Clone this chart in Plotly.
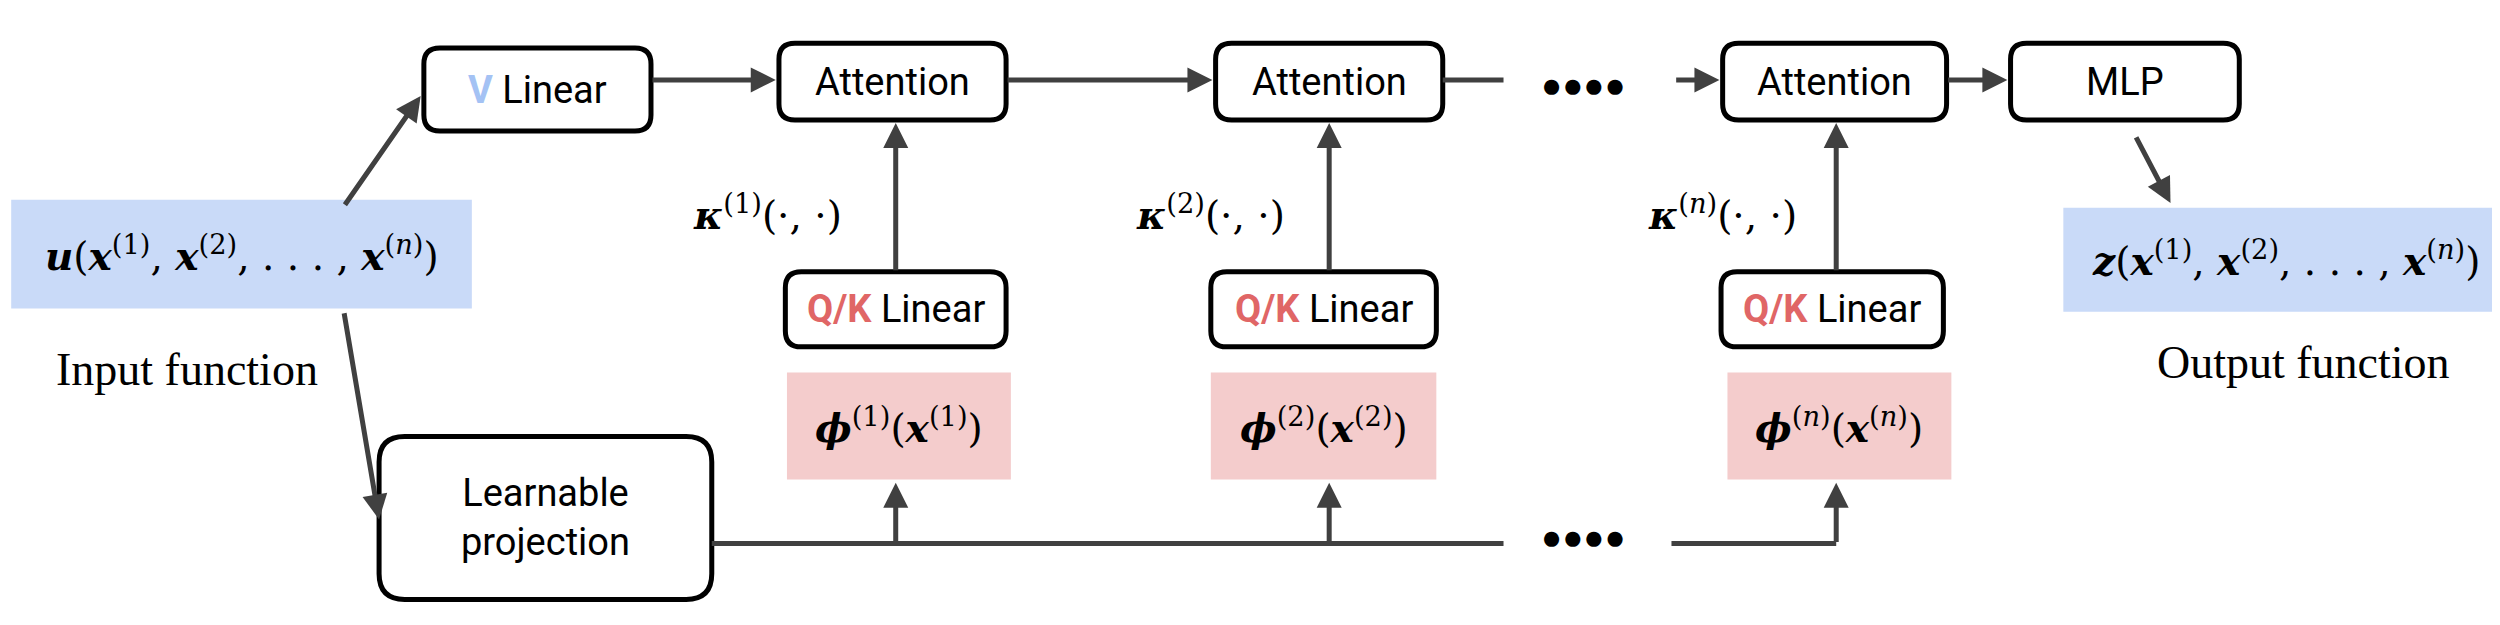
import plotly.graph_objects as go

# ===== diagram content =====
box_labels = ["<span style='color:#a4c2f4'><b>V</b></span> Linear", "Attention", "Attention", "Attention", "MLP",
              "Learnable<br>projection",
              "<span style='color:#e06666'><b>Q/K</b></span> Linear",
              "<span style='color:#e06666'><b>Q/K</b></span> Linear",
              "<span style='color:#e06666'><b>Q/K</b></span> Linear"]
kernel_labels = ["(1)", "(2)", "(<i>n</i>)"]
phi_labels = ["(1)", "(2)", "(<i>n</i>)"]
input_text = "Input function"
output_text = "Output function"

# geometry in a 1563 x 391 frame (scaled by the axes)
S = 2500 / 1563
boxes = [(260, 25, 402, 77), (482, 22, 624, 70), (755, 22, 897, 70), (1072, 22, 1212, 70), (1252, 22, 1395, 70),
         (232, 268, 440, 370), (486, 165, 624, 212), (752, 165, 893, 212), (1071, 165, 1210, 212)]
phi_boxes = [(487, 228, 627, 295), (752, 228, 893, 295), (1075, 228, 1215, 295)]
kappa_pos = [(475, 128), (752, 128), (1072, 128)]
qk_x = [555, 826, 1143]


def rrect(x0, y0, x1, y1, r=10):
    return (f"M{x0+r},{y0} L{x1-r},{y0} Q{x1},{y0} {x1},{y0+r} L{x1},{y1-r} Q{x1},{y1} {x1-r},{y1} "
            f"L{x0+r},{y1} Q{x0},{y1} {x0},{y1-r} L{x0},{y0+r} Q{x0},{y0} {x0+r},{y0} Z")


fig = go.Figure()
shapes = []
ann = []
sans = dict(family="Roboto, Arial", size=int(24 * S), color="black")
serif = dict(family="Liberation Serif, DejaVu Serif", size=int(29 * S), color="black")
mathf = dict(family="DejaVu Serif", size=int(25 * S), color="black")

# filled boxes
shapes.append(dict(type="rect", x0=2, y0=120, x1=290, y1=188, fillcolor="#c9daf8", line_width=0, layer="below"))
shapes.append(dict(type="rect", x0=1285, y0=125, x1=1563, y1=190, fillcolor="#c9daf8", line_width=0, layer="below"))
for (x0, y0, x1, y1) in phi_boxes:
    shapes.append(dict(type="rect", x0=x0, y0=y0, x1=x1, y1=y1, fillcolor="#f4cccc", line_width=0, layer="below"))

for (x0, y0, x1, y1), lab in zip(boxes, box_labels):
    shapes.append(dict(type="path", path=rrect(x0, y0, x1, y1, 16 if y1 - y0 > 60 else 10),
                       line=dict(color="black", width=5), fillcolor="white"))
    ann.append(dict(x=(x0 + x1) / 2, y=(y0 + y1) / 2, text=lab, showarrow=False, font=sans))

# math labels
ann.append(dict(x=146, y=154, showarrow=False, font=mathf,
                text="<b><i>u</i></b>(<b><i>x</i></b><sup>(1)</sup>, <b><i>x</i></b><sup>(2)</sup>, . . . , <b><i>x</i></b><sup>(<i>n</i>)</sup>)"))
ann.append(dict(x=1424, y=157, showarrow=False, font=mathf,
                text="<b><i>z</i></b>(<b><i>x</i></b><sup>(1)</sup>, <b><i>x</i></b><sup>(2)</sup>, . . . , <b><i>x</i></b><sup>(<i>n</i>)</sup>)"))
ann.append(dict(x=112, y=226, text=input_text, showarrow=False, font=serif))
ann.append(dict(x=1435, y=222, text=output_text, showarrow=False, font=serif))
for (x, y), k in zip(kappa_pos, kernel_labels):
    ann.append(dict(x=x, y=y, showarrow=False, font=mathf,
                    text=f"<b><i>κ</i></b><sup>{k}</sup>(·, ·)"))
for (x0, y0, x1, y1), p in zip(phi_boxes, phi_labels):
    ann.append(dict(x=(x0 + x1) / 2, y=(y0 + y1) / 2, showarrow=False, font=mathf,
                    text=f"<b><i>ϕ</i></b><sup>{p}</sup>(<b><i>x</i></b><sup>{p}</sup>)"))
# dots
for x, y in [(985, 47), (985, 330)]:
    ann.append(dict(x=x, y=y, text="●●●●", showarrow=False, font=dict(size=int(22 * S), color="black")))

# arrows
LC = "#404040"


def arrow(x0, y0, x1, y1):
    ann.append(dict(x=x1, y=y1, ax=x0, ay=y0, xref="x", yref="y", axref="x", ayref="y", text="",
                    showarrow=True, arrowhead=2, arrowsize=1.0, arrowwidth=5, arrowcolor=LC))


def line(x0, y0, x1, y1):
    shapes.append(dict(type="line", x0=x0, y0=y0, x1=x1, y1=y1, line=dict(color=LC, width=5)))


arrow(210, 124, 258, 55)
arrow(210, 190, 232, 320)
arrow(402, 45, 480, 45)
arrow(624, 45, 753, 45)
line(897, 45, 935, 45)
arrow(1042, 45, 1070, 45)
arrow(1212, 45, 1250, 45)
arrow(1330, 80, 1352, 122)
for x in qk_x:
    arrow(x, 165, x, 72)
line(440, 335, 935, 335)
line(1040, 335, qk_x[2], 335)
for x in qk_x:
    arrow(x, 335, x, 297)

fig.update_layout(shapes=shapes, annotations=ann, width=2500, height=625,
                  margin=dict(l=0, r=0, t=0, b=0), plot_bgcolor="white", paper_bgcolor="white",
                  xaxis=dict(range=[0, 1563], visible=False),
                  yaxis=dict(range=[391, 0], visible=False), showlegend=False)
fig.write_html("out.html")
